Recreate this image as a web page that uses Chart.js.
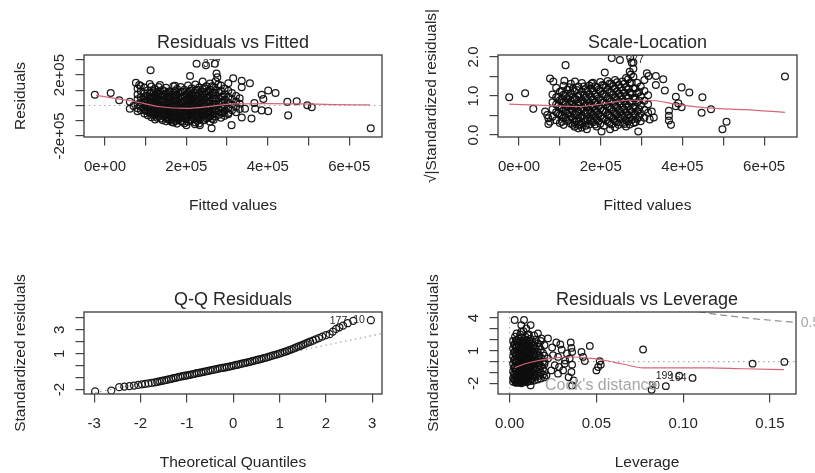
<!DOCTYPE html>
<html>
<head>
<meta charset="utf-8">
<title>lm diagnostics</title>
<script src="https://cdn.jsdelivr.net/npm/chart.js@4.4.0/dist/chart.umd.min.js"></script>
<style>
  html, body { margin: 0; padding: 0; background: #fff; }
  #wrap { position: relative; width: 815px; height: 473px; overflow: hidden; }
  canvas { position: absolute; }
</style>
</head>
<body>
<div id="wrap">
  <canvas id="rvf" width="408" height="236" style="left:0;top:0"></canvas>
  <canvas id="sl" width="407" height="236" style="left:408px;top:0"></canvas>
  <canvas id="qq" width="408" height="237" style="left:0;top:236px"></canvas>
  <canvas id="rvl" width="407" height="237" style="left:408px;top:236px"></canvas>
</div>
<script>
// ---- Residuals vs Fitted (fitted values and residuals in units of 1e5) ----
var rvfXTicks = [0, 2, 4, 6];
var rvfXTickText = ['0e+00', '2e+05', '4e+05', '6e+05'];
var rvfYTicks = [-2, 2];
var rvfYTickText = ['-2e+05', '2e+05'];
var rvfOuter = [[-0.25,0.71],[0.14,0.82],[0.35,0.34],[0.61,0.24],[0.61,-0.21],[0.70,-0.04],[0.76,1.50],[0.84,1.35],
  [1.10,1.42],[1.12,2.32],[1.35,1.35],[1.72,1.29],[2.09,1.94],[2.25,2.75],[2.48,2.65],[2.70,2.75],[2.74,2.11],
  [2.76,1.85],[2.72,1.60],[2.78,1.38],[3.03,1.46],[1.64,-1.08],[2.00,-1.29],[2.21,-1.23],[2.33,-1.29],[2.62,-1.50],
  [3.11,-1.29],[3.03,-0.58],[3.15,1.79],[3.36,1.63],[3.56,1.46],[3.36,1.20],[3.85,0.71],[3.89,0.43],[4.01,0.99],
  [4.19,0.82],[3.67,0.17],[3.69,-0.21],[3.85,-0.32],[4.01,-0.37],[3.44,-0.21],[3.36,-0.79],[3.60,-0.86],
  [4.48,0.24],[4.71,0.28],[4.50,-0.65],[4.97,0.02],[5.08,-0.11],[6.53,-1.50]];
var rvfCore = [
  [0.80,[1.12,0.72,0.41,0.08,-0.18,-0.38]], [0.88,[1.28,0.93,0.55,0.22,-0.06,-0.31]],
  [0.97,[1.19,0.81,0.47,0.14,-0.22,-0.52]], [1.05,[0.98,0.63,0.31,-0.02,-0.33,-0.64]],
  [1.14,[1.24,0.86,0.52,0.19,-0.12,-0.46,-0.77]], [1.23,[1.08,0.69,0.36,0.04,-0.27,-0.61,-0.92]],
  [1.32,[1.21,0.91,0.56,0.21,-0.09,-0.42,-0.74]], [1.41,[1.02,0.66,0.29,-0.01,-0.32,-0.57,-0.96]],
  [1.50,[1.16,0.79,0.44,0.11,-0.21,-0.51,-0.82,-1.04]], [1.59,[0.94,0.61,0.26,-0.06,-0.36,-0.69,-0.97]],
  [1.68,[1.26,0.84,0.49,0.16,-0.14,-0.46,-0.79,-1.12]], [1.77,[1.09,0.71,0.34,0.01,-0.29,-0.62,-0.91,-1.19]],
  [1.86,[1.22,0.89,0.54,0.19,-0.11,-0.41,-0.72,-1.02]], [1.95,[1.04,0.66,0.31,-0.02,-0.26,-0.56,-0.86,-1.16]],
  [2.04,[1.31,0.86,0.51,0.14,-0.16,-0.44,-0.76,-1.06]], [2.13,[1.13,0.74,0.39,0.06,-0.31,-0.61,-0.94]],
  [2.22,[1.38,0.99,0.62,0.24,-0.09,-0.39,-0.71,-1.11]], [2.31,[1.19,0.81,0.46,0.09,-0.21,-0.52,-0.84,-1.18]],
  [2.40,[1.58,1.09,0.69,0.34,0.01,-0.34,-0.66,-0.99]], [2.49,[1.27,0.89,0.52,0.17,-0.19,-0.49,-0.83]],
  [2.58,[1.45,1.04,0.66,0.29,-0.06,-0.41,-0.72,-1.06]], [2.67,[1.21,0.84,0.47,0.11,-0.26,-0.57,-0.93]],
  [2.85,[1.31,0.96,0.59,0.23,-0.13,-0.47,-0.81]], [2.94,[1.12,0.74,0.38,0.02,-0.34,-0.68]],
  [3.03,[0.97,0.56,0.19,-0.17,-0.49]], [3.12,[0.82,0.41,0.06,-0.31]],
  [3.22,[0.63,0.27,-0.09,-0.44]], [3.31,[0.48,0.12,-0.23]]];
var rvfInner = [
  [1.00,[0.62,0.30,-0.04,-0.36]], [1.10,[0.77,0.43,0.09,-0.19,-0.50]],
  [1.19,[0.95,0.58,0.26,-0.05,-0.37,-0.66]], [1.28,[0.83,0.49,0.13,-0.19,-0.50,-0.80]],
  [1.37,[0.72,0.38,0.05,-0.25,-0.58,-0.86]], [1.46,[0.94,0.60,0.27,-0.13,-0.41,-0.70]],
  [1.55,[0.84,0.46,0.16,-0.17,-0.47,-0.78,-0.90]], [1.64,[0.71,0.35,0.03,-0.29,-0.60,-0.88]],
  [1.73,[0.96,0.62,0.31,-0.05,-0.39,-0.71,-1.02]], [1.82,[0.79,0.43,0.09,-0.24,-0.53,-0.84]],
  [1.91,[0.91,0.55,0.22,-0.12,-0.43,-0.74,-1.06]], [2.00,[0.73,0.37,0.03,-0.30,-0.59,-0.89]],
  [2.09,[0.97,0.61,0.27,-0.05,-0.38,-0.68,-1.00]], [2.18,[0.83,0.46,0.12,-0.24,-0.55,-0.85]],
  [2.27,[1.04,0.64,0.29,-0.05,-0.37,-0.69,-1.01]], [2.36,[0.90,0.51,0.17,-0.17,-0.50,-0.82]],
  [2.45,[1.11,0.73,0.36,0.00,-0.33,-0.64,-0.95]], [2.54,[0.95,0.57,0.22,-0.13,-0.47,-0.79]],
  [2.63,[1.27,0.82,0.45,0.09,-0.24,-0.56,-0.87]], [2.72,[1.02,0.65,0.30,-0.05,-0.40,-0.72]],
  [2.80,[0.84,0.46,0.10,-0.28,-0.60]], [2.90,[0.58,0.21,-0.16,-0.50]]];
var rvfSmoothX = [-0.22, 0.69, 1.35, 2.01, 2.65, 3.14, 3.98, 4.79, 5.61, 6.51];
var rvfSmoothY = [0.66, 0.28, -0.08, -0.19, -0.04, 0.11, 0.13, 0.11, 0.06, 0.04];

// ---- Scale-Location (fitted values in units of 1e5) ----
var slXTicks = [0, 2, 4, 6];
var slXTickText = ['0e+00', '2e+05', '4e+05', '6e+05'];
var slYTicks = [0, 1, 2];
var slYTickText = ['0.0', '1.0', '2.0'];
var slOuter = [[-0.24,0.97],[0.15,1.07],[0.35,0.67],[0.64,0.60],[0.69,0.51],[0.72,0.43],[0.76,0.34],[0.72,0.28],
  [0.76,1.45],[0.84,1.37],[1.14,1.79],[1.11,1.39],[1.37,1.37],[2.10,1.60],[1.78,1.32],[2.27,1.97],[2.47,1.92],
  [2.72,1.99],[2.76,1.85],[2.80,1.70],[2.74,1.55],[1.45,0.17],[1.66,0.15],[2.02,0.09],[2.23,0.15],[2.92,0.09],
  [3.13,1.58],[3.17,1.51],[3.35,1.51],[3.53,1.43],[3.35,1.28],[3.57,1.14],[3.98,1.22],[4.17,1.09],[4.49,0.97],
  [3.84,0.98],[3.90,0.81],[3.98,0.71],[3.84,0.74],[3.67,0.62],[3.67,0.49],[3.67,0.37],[3.72,0.26],
  [4.47,0.57],[4.70,0.66],[4.98,0.15],[5.08,0.34],[6.51,1.50],[3.25,0.60],[3.30,0.45],[3.20,0.40]];
var slCore = [
  [0.82,[1.04,0.84,0.66,0.47]], [0.91,[1.21,0.97,0.78,0.58,0.38]], [1.00,[1.11,0.89,0.69,0.51,0.31]],
  [1.09,[1.26,1.03,0.83,0.62,0.44,0.26]], [1.18,[1.16,0.94,0.74,0.55,0.36]],
  [1.27,[1.31,1.07,0.87,0.67,0.48,0.29]], [1.36,[1.12,0.92,0.72,0.53,0.33,0.21]],
  [1.45,[1.24,1.01,0.81,0.61,0.42,0.26]], [1.54,[1.33,1.11,0.89,0.69,0.49,0.31,0.19]],
  [1.63,[1.17,0.96,0.76,0.57,0.37,0.24]], [1.72,[1.27,1.05,0.84,0.64,0.45,0.27]],
  [1.81,[1.34,1.13,0.91,0.71,0.52,0.33]], [1.90,[1.22,0.99,0.79,0.59,0.40,0.22]],
  [1.99,[1.36,1.12,0.89,0.68,0.48,0.29]], [2.08,[1.27,1.04,0.83,0.63,0.43,0.24]],
  [2.17,[1.38,1.16,0.94,0.73,0.53,0.34]], [2.26,[1.31,1.08,0.86,0.66,0.46,0.27]],
  [2.35,[1.41,1.19,0.97,0.76,0.56,0.36,0.20]], [2.44,[1.28,1.06,0.85,0.64,0.44,0.26]],
  [2.53,[1.37,1.14,0.92,0.71,0.51,0.31]], [2.62,[1.46,1.22,0.99,0.78,0.58,0.38,0.22]],
  [2.71,[1.62,1.33,1.09,0.86,0.64,0.44,0.27]], [2.80,[1.86,1.49,1.19,0.94,0.71,0.51,0.31]],
  [2.89,[1.34,1.07,0.83,0.61,0.41]], [2.98,[1.24,0.99,0.76,0.55,0.35]],
  [3.07,[1.41,1.13,0.88,0.64,0.44]], [3.16,[1.02,0.79,0.57]]];
var slInner = [
  [0.96,[0.98,0.75,0.55]], [1.05,[1.13,0.92,0.70,0.51,0.34]], [1.14,[1.05,0.84,0.64,0.45]],
  [1.23,[1.22,0.99,0.79,0.58,0.39]], [1.32,[1.19,0.97,0.78,0.60,0.41,0.26]], [1.41,[1.15,0.91,0.70,0.51,0.36]],
  [1.50,[1.04,0.83,0.65,0.45,0.26]], [1.59,[1.24,1.02,0.81,0.62,0.42]], [1.68,[1.14,0.93,0.74,0.55,0.36]],
  [1.77,[1.19,0.97,0.76,0.57,0.38]], [1.86,[1.25,1.04,0.84,0.64,0.46,0.27]], [1.95,[1.16,0.94,0.73,0.53,0.36]],
  [2.04,[1.28,1.05,0.83,0.62,0.42]], [2.13,[1.22,0.99,0.79,0.59,0.38]], [2.22,[1.32,1.11,0.90,0.70,0.50,0.31]],
  [2.31,[1.25,1.03,0.82,0.61,0.41]], [2.40,[1.35,1.12,0.92,0.72,0.53,0.33]], [2.49,[1.22,1.01,0.81,0.60,0.41]],
  [2.58,[1.31,1.08,0.86,0.66,0.47,0.28]], [2.67,[1.43,1.18,0.96,0.74,0.52,0.35]],
  [2.76,[1.34,1.06,0.82,0.60,0.39]], [2.85,[1.20,0.95,0.72,0.52,0.33]], [2.94,[1.10,0.88,0.66,0.46]]];
var slSmoothX = [-0.24, 0.64, 1.45, 1.86, 2.27, 2.67, 3.16, 3.90, 4.72, 5.53, 6.51];
var slSmoothY = [0.79, 0.76, 0.73, 0.77, 0.84, 0.89, 0.89, 0.78, 0.69, 0.65, 0.58];

// ---- Q-Q Residuals ----
var qqXTicks = [-3, -2, -1, 0, 1, 2, 3];
var qqXTickText = ['-3', '-2', '-1', '0', '1', '2', '3'];
var qqYTicks = [-2, 1, 3];
var qqYTickText = ['-2', '1', '3'];
var qqTheo = [-2.98,-2.63,-2.46,-2.35,-2.24,-2.14,-2.05,-1.97,-1.90,-1.83,-1.76,-1.69,-1.64,-1.59,-1.54,-1.49,
  -1.44,-1.39,-1.34,-1.29,-1.24,-1.19,-1.14,-1.09,-1.04,-0.99,-0.94,-0.89,-0.84,-0.79,-0.74,-0.69,-0.64,-0.59,
  -0.54,-0.49,-0.44,-0.39,-0.34,-0.29,-0.24,-0.19,-0.14,-0.09,-0.04,0.01,0.06,0.11,0.16,0.21,0.26,0.31,0.36,
  0.41,0.46,0.51,0.56,0.61,0.66,0.71,0.76,0.81,0.86,0.91,0.96,1.01,1.06,1.11,1.16,1.21,1.26,1.31,1.36,1.41,
  1.46,1.51,1.56,1.61,1.66,1.72,1.78,1.85,1.92,2.00,2.08,2.15,2.22,2.29,2.37,2.47,2.59,2.97];
var qqStd = [-2.16,-2.08,-1.80,-1.75,-1.71,-1.66,-1.61,-1.56,-1.52,-1.48,-1.44,-1.39,-1.35,-1.31,-1.27,-1.23,
  -1.19,-1.15,-1.10,-1.05,-1.01,-0.96,-0.92,-0.88,-0.84,-0.80,-0.76,-0.72,-0.68,-0.63,-0.59,-0.55,-0.51,-0.47,
  -0.43,-0.39,-0.35,-0.31,-0.27,-0.23,-0.19,-0.15,-0.11,-0.07,-0.03,0.01,0.06,0.10,0.15,0.19,0.24,0.28,0.33,
  0.38,0.43,0.48,0.53,0.58,0.63,0.68,0.74,0.80,0.86,0.91,0.97,1.03,1.09,1.16,1.23,1.30,1.37,1.45,1.53,1.61,
  1.69,1.77,1.85,1.93,2.01,2.10,2.20,2.32,2.44,2.56,2.64,2.86,3.08,3.22,3.36,3.56,3.76,3.81];
var qqLineX = [-3.4, 3.4];
var qqLineY = [-2.60, 2.84];

// ---- Residuals vs Leverage ----
var rvlXTicks = [0, 0.05, 0.10, 0.15];
var rvlXTickText = ['0.00', '0.05', '0.10', '0.15'];
var rvlYTicks = [-2, 1, 4];
var rvlYTickText = ['-2', '1', '4'];
var rvlOuter = [[0.0029,3.82],[0.0083,3.82],[0.0067,3.36],[0.0096,3.06],[0.0067,2.74],[0.0106,2.44],[0.0121,3.36],
  [0.0163,2.59],[0.0183,2.13],[0.0221,2.13],[0.0269,1.76],[0.0292,1.57],[0.0352,1.76],[0.0356,1.26],[0.0360,0.89],
  [0.0462,1.44],[0.0414,0.89],[0.0423,0.43],[0.0433,0.05],[0.0346,0.28],[0.0317,-0.19],[0.0360,-0.28],
  [0.0308,-0.81],[0.0356,-0.96],[0.0340,-1.43],[0.0369,-1.73],[0.0360,-2.19],[0.0260,-0.34],[0.0240,-0.81],
  [0.0279,-1.11],[0.0221,0.28],[0.0202,-0.04],[0.0250,0.58],[0.0279,0.43],[0.0212,-1.27],[0.0121,-2.19],
  [0.0077,-1.80],[0.0519,0.03],[0.0525,-0.28],[0.0510,-0.50],[0.0500,-0.81],[0.0769,1.11],[0.1400,-0.19],
  [0.1583,-0.03],[0.0977,-1.30],[0.1054,-1.50],[0.0900,-2.26],[0.0818,-2.60],[0.0330,0.75],[0.0300,1.10],
  [0.0245,1.30],[0.0285,-0.50],[0.0320,0.10]];
var rvlCore = [
  [0.0020,[1.9,1.2,0.5,-0.2,-0.9,-1.5,-1.85]], [0.0031,[2.3,1.6,0.9,0.2,-0.5,-1.2,-1.7]],
  [0.0040,[2.6,1.9,1.3,0.6,-0.1,-0.8,-1.4,-1.9]], [0.0052,[2.1,1.5,0.8,0.1,-0.6,-1.1,-1.6,-1.95]],
  [0.0061,[2.5,1.8,1.1,0.4,-0.3,-0.9,-1.45,-1.8]], [0.0069,[2.2,1.4,0.7,0.0,-0.7,-1.25,-1.7,-2.0]],
  [0.0080,[2.8,1.9,1.2,0.5,-0.2,-0.85,-1.5,-1.85]], [0.0091,[2.3,1.6,0.9,0.2,-0.5,-1.1,-1.65]],
  [0.0099,[2.0,1.3,0.6,-0.1,-0.75,-1.35,-1.9]], [0.0111,[2.5,1.7,1.0,0.3,-0.4,-1.0,-1.6]],
  [0.0120,[2.1,1.4,0.7,0.0,-0.6,-1.25,-1.8]], [0.0132,[1.8,1.1,0.4,-0.3,-0.9,-1.5]],
  [0.0141,[2.4,1.5,0.8,0.1,-0.55,-1.15,-1.75]], [0.0150,[2.0,1.2,0.5,-0.2,-0.8,-1.4]],
  [0.0162,[1.7,0.9,0.2,-0.5,-1.1,-1.65]], [0.0171,[1.4,0.6,-0.1,-0.75,-1.3]],
  [0.0180,[1.9,1.1,0.35,-0.4,-1.0,-1.55]], [0.0192,[0.8,0.0,-0.65,-1.2]],
  [0.0201,[1.5,0.55,-0.25,-0.9,-1.45]]];
var rvlInner = [
  [0.0025,[1.55,0.85,0.15,-0.55,-1.15,-1.65]], [0.0035,[1.95,1.25,0.55,-0.15,-0.85,-1.45,-1.95]],
  [0.0046,[1.7,1.0,0.3,-0.4,-1.0,-1.55,-1.8]], [0.0056,[1.85,1.15,0.45,-0.25,-0.85,-1.35,-1.75]],
  [0.0065,[1.5,0.8,0.15,-0.5,-1.05,-1.6,-1.9]], [0.0075,[1.75,1.05,0.35,-0.35,-1.0,-1.6]],
  [0.0086,[1.5,0.85,0.1,-0.6,-1.2,-1.75]], [0.0095,[1.75,1.0,0.3,-0.4,-0.95,-1.55]],
  [0.0105,[1.55,0.85,0.1,-0.55,-1.2,-1.8]], [0.0116,[1.35,0.65,-0.05,-0.7,-1.35]],
  [0.0126,[1.7,0.95,0.25,-0.4,-1.05,-1.65]], [0.0137,[1.45,0.7,0.0,-0.65,-1.3]]];
var rvlSmoothX = [0.003, 0.009, 0.016, 0.026, 0.036, 0.047, 0.055, 0.065, 0.077, 0.095, 0.115, 0.135, 0.158];
var rvlSmoothY = [-0.55, -0.20, 0.08, 0.35, 0.42, 0.30, 0.10, -0.22, -0.58, -0.57, -0.58, -0.66, -0.73];
var rvlCookX = [0.090, 0.100, 0.120, 0.140, 0.166];
var rvlCookY = [5.07, 4.79, 4.32, 3.95, 3.58];

var INK = '#262626';
var FAMILY = '"Liberation Sans", Arial, Helvetica, sans-serif';
var SMOOTH = '#d6677a';
Chart.defaults.font.family = FAMILY;
Chart.defaults.color = INK;

function font(size) { return size + 'px ' + FAMILY; }

function pairs(xs, ys) {
    return xs.map(function (x, i) { return {x: x, y: ys[i]}; });
}

function cloud(outer, cores) {
    var pts = outer.map(function (p) { return {x: p[0], y: p[1]}; });
    cores.forEach(function (core) {
        core.forEach(function (col) {
            col[1].forEach(function (v) { pts.push({x: col[0], y: v}); });
        });
    });
    return pts;
}

function tickText(vals, texts) {
    return function (v) {
        for (var i = 0; i < vals.length; i++) {
            if (Math.abs(vals[i] - v) < 1e-9) return texts[i];
        }
        return '';
    };
}

// draws the R style frame, titles, rotated y labels and point ids
var rFrame = {
    id: 'rFrame',
    beforeDatasetsDraw: function (chart, args, o) {
        var ctx = chart.ctx, a = chart.chartArea, sx = chart.scales.x, sy = chart.scales.y;
        ctx.save();
        ctx.beginPath();
        ctx.rect(a.left, a.top, a.right - a.left, a.bottom - a.top);
        ctx.clip();
        ctx.strokeStyle = '#aaaaaa';
        ctx.lineWidth = 1.1;
        ctx.setLineDash([1.5, 3.5]);
        (o.hLines || []).forEach(function (v) {
            var py = sy.getPixelForValue(v);
            ctx.beginPath(); ctx.moveTo(a.left, py); ctx.lineTo(a.right, py); ctx.stroke();
        });
        (o.vLines || []).forEach(function (v) {
            var px = sx.getPixelForValue(v);
            ctx.beginPath(); ctx.moveTo(px, a.top); ctx.lineTo(px, a.bottom); ctx.stroke();
        });
        ctx.restore();
    },
    afterDraw: function (chart, args, o) {
        var ctx = chart.ctx, a = chart.chartArea, sx = chart.scales.x, sy = chart.scales.y;
        var midX = (a.left + a.right) / 2, midY = (a.top + a.bottom) / 2;
        ctx.save();
        ctx.strokeStyle = '#3c3c3c';
        ctx.lineWidth = 1.3;
        ctx.strokeRect(a.left, a.top, a.right - a.left, a.bottom - a.top);

        ctx.fillStyle = INK;
        ctx.textAlign = 'center';
        ctx.textBaseline = 'alphabetic';
        ctx.font = font(18);
        ctx.fillText(o.title, midX, a.top - 7.5);
        ctx.font = font(15.5);
        ctx.fillText(o.xTitle, midX, a.bottom + 73);
        ctx.save();
        ctx.translate(a.left - o.yTitleGap, midY);
        ctx.rotate(-Math.PI / 2);
        ctx.fillText(o.yTitle, 0, 0);
        ctx.restore();

        ctx.font = font(15);
        o.yTicks.forEach(function (v, i) {
            ctx.save();
            ctx.translate(a.left - 20, sy.getPixelForValue(v));
            ctx.rotate(-Math.PI / 2);
            ctx.fillText(o.yTickText[i], 0, 0);
            ctx.restore();
        });

        (o.notes || []).forEach(function (n) {
            ctx.font = font(n.size || 10.5);
            ctx.fillStyle = n.color || INK;
            ctx.textBaseline = 'middle';
            ctx.textAlign = n.side === 'left' ? 'right' : 'left';
            var px = sx.getPixelForValue(n.x) + (n.side === 'left' ? -n.gap : n.gap);
            ctx.fillText(n.text, px, sy.getPixelForValue(n.y));
        });

        if (o.legend) {
            ctx.font = font(16);
            ctx.fillStyle = '#a6a6a6';
            ctx.textAlign = 'left';
            ctx.textBaseline = 'middle';
            ctx.fillText(o.legend, a.left + 47, a.bottom - 8);
        }
        ctx.restore();
    }
};

function axis(range, step, vals, texts, isX, size) {
    return {
        type: 'linear',
        min: range[0],
        max: range[1],
        ticks: {
            stepSize: step,
            includeBounds: false,
            autoSkip: false,
            maxRotation: 0,
            minRotation: 0,
            padding: 12,
            font: {size: 15},
            color: INK,
            callback: isX ? tickText(vals, texts) : function () { return ''; }
        },
        grid: {drawOnChartArea: false, drawTicks: true, tickLength: 8.5, color: '#444', lineWidth: 1.2},
        border: {display: false},
        afterFit: function (scale) {
            if (isX) scale.height = size;
            else scale.width = size;
        }
    };
}

function panel(id, p) {
    var canvas = document.getElementById(id);
    var W = canvas.width, H = canvas.height;
    return new Chart(canvas, {
        type: 'scatter',
        data: {datasets: p.datasets},
        options: {
            responsive: false,
            animation: false,
            devicePixelRatio: 1,
            events: [],
            layout: {padding: {left: 0, top: p.area[1], right: W - p.area[2], bottom: 0}},
            scales: {
                x: axis(p.xRange, p.xStep, p.xTicks, p.xTickText, true, H - p.area[3]),
                y: axis(p.yRange, p.yStep, [], [], false, p.area[0])
            },
            plugins: {
                legend: {display: false},
                tooltip: {enabled: false},
                rFrame: p.frame
            }
        },
        plugins: [rFrame]
    });
}

function pointSet(data, r) {
    return {
        data: data,
        pointStyle: 'circle',
        pointRadius: r,
        pointBorderWidth: 1.25,
        pointBorderColor: 'rgba(15,15,15,0.95)',
        pointBackgroundColor: 'rgba(0,0,0,0)'
    };
}

function lineSet(data, color, dash, smooth) {
    return {
        data: data,
        showLine: true,
        pointRadius: 0,
        borderColor: color,
        borderWidth: 1.2,
        borderDash: dash,
        cubicInterpolationMode: smooth ? 'monotone' : 'default',
        tension: 0
    };
}

panel('rvf', {
    area: [84, 55, 382, 137],
    xRange: [-0.516, 6.806], xStep: 1, xTicks: rvfXTicks, xTickText: rvfXTickText,
    yRange: [-2.07, 3.32], yStep: 1,
    datasets: [
        lineSet(pairs(rvfSmoothX, rvfSmoothY), SMOOTH, [], true),
        pointSet(cloud(rvfOuter, [rvfCore, rvfInner]), 3.4)
    ],
    frame: {
        title: 'Residuals vs Fitted', xTitle: 'Fitted values', yTitle: 'Residuals', yTitleGap: 59,
        yTicks: rvfYTicks, yTickText: rvfYTickText, hLines: [0],
        notes: [{x: 2.25, y: 2.75, text: '377', side: 'right', gap: 6.5}]
    }
});

panel('sl', {
    area: [90, 55, 389, 137],
    xRange: [-0.514, 6.805], xStep: 1, xTicks: slXTicks, xTickText: slXTickText,
    yRange: [-0.051, 2.05], yStep: 0.5,
    datasets: [
        lineSet(pairs(slSmoothX, slSmoothY), SMOOTH, [], true),
        pointSet(cloud(slOuter, [slCore, slInner]), 3.4)
    ],
    frame: {
        title: 'Scale-Location', xTitle: 'Fitted values', yTitle: '\u221A|Standardized residuals|', yTitleGap: 62,
        yTicks: slYTicks, yTickText: slYTickText,
        notes: [{x: 2.47, y: 1.92, text: '377', side: 'right', gap: 6.5}]
    }
});

panel('qq', {
    area: [84, 76, 382, 158],
    xRange: [-3.22, 3.21], xStep: 1, xTicks: qqXTicks, xTickText: qqXTickText,
    yRange: [-2.37, 4.5], yStep: 1,
    datasets: [
        pointSet(pairs(qqTheo, qqStd), 3.5),
        lineSet(pairs(qqLineX, qqLineY), '#a0a0a0', [1.5, 3.5], false)
    ],
    frame: {
        title: 'Q-Q Residuals', xTitle: 'Theoretical Quantiles', yTitle: 'Standardized residuals', yTitleGap: 59,
        yTicks: qqYTicks, yTickText: qqYTickText,
        notes: [
            {x: 2.59, y: 3.76, text: '177', side: 'left', gap: 6},
            {x: 2.97, y: 3.81, text: '10', side: 'left', gap: 6}
        ]
    }
});

panel('rvl', {
    area: [90, 76, 388, 158],
    xRange: [-0.0067, 0.165], xStep: 0.05, xTicks: rvlXTicks, xTickText: rvlXTickText,
    yRange: [-2.98, 4.56], yStep: 1,
    datasets: [
        lineSet(pairs(rvlSmoothX, rvlSmoothY), SMOOTH, [], true),
        lineSet(pairs(rvlCookX, rvlCookY), '#8f8f8f', [7, 4], false),
        pointSet(cloud(rvlOuter, [rvlCore, rvlInner]), 3.3)
    ],
    frame: {
        title: 'Residuals vs Leverage', xTitle: 'Leverage', yTitle: 'Standardized residuals', yTitleGap: 60,
        yTicks: rvlYTicks, yTickText: rvlYTickText, hLines: [0], vLines: [0],
        legend: 'Cook\'s distance',
        notes: [
            {x: 0.0977, y: -1.30, text: '199', side: 'left', gap: 6},
            {x: 0.1054, y: -1.50, text: '164', side: 'left', gap: 6},
            {x: 0.0900, y: -2.26, text: '90', side: 'left', gap: 6},
            {x: 0.166, y: 3.58, text: '0.5', side: 'right', gap: 3, color: '#a6a6a6', size: 14}
        ]
    }
});
</script>
</body>
</html>
